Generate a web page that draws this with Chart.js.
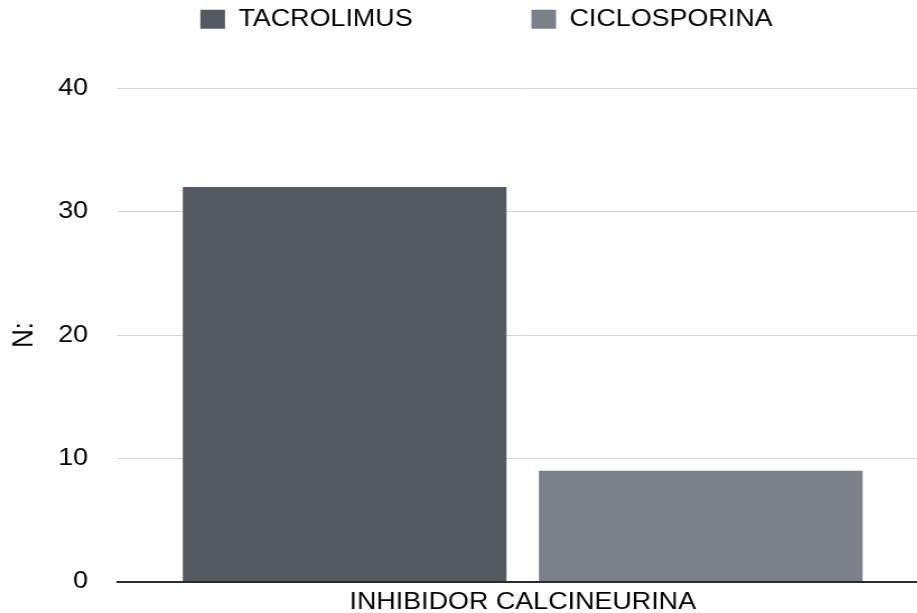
<!DOCTYPE html>
<html>
<head>
<meta charset="utf-8">
<title>Inhibidor calcineurina</title>
<script src="https://cdn.jsdelivr.net/npm/chart.js@4.4.1/dist/chart.umd.min.js"></script>
<style>
  html, body { margin: 0; padding: 0; background: #fff; overflow: hidden; }
  #frame { width: 917px; height: 613px; overflow: hidden; position: relative; }
  /* the drawing is widened a little with a horizontal scale */
  #stage { width: 840px; height: 613px; transform: scaleX(1.12); transform-origin: 0 0; }
  canvas { display: block; }
</style>
</head>
<body>
<div id="frame"><div id="stage"><canvas id="chart" width="840" height="613"></canvas></div></div>
<script>
// ---- data ----
const categories = ['INHIBIDOR CALCINEURINA'];
const seriesNames = ['TACROLIMUS', 'CICLOSPORINA'];
const tacrolimusValues = [32];
const ciclosporinaValues = [9];
const yTicks = [0, 10, 20, 30, 40];
const yTitle = 'N:';

// ---- styling ----
const seriesColors = ['#555a61', '#7b8089'];
const FONT = "'Liberation Sans', Arial, Helvetica, sans-serif";
Chart.defaults.font.family = FONT;
Chart.defaults.color = '#000';

// keeps a fixed band for the legend above the plot
const legendBand = {
  id: 'legendBand',
  beforeUpdate(chart) {
    const lg = chart.legend;
    if (lg && !lg.__banded) {
      const fit = lg.fit.bind(lg);
      lg.fit = function () { fit(); this.height = 187.2; };
      lg.__banded = true;
    }
  }
};

new Chart(document.getElementById('chart'), {
  type: 'bar',
  data: {
    labels: categories,
    datasets: [
      { label: seriesNames[0], data: tacrolimusValues, backgroundColor: seriesColors[0], borderWidth: 0 },
      { label: seriesNames[1], data: ciclosporinaValues, backgroundColor: seriesColors[1], borderWidth: 0 }
    ]
  },
  options: {
    responsive: false,
    animation: false,
    devicePixelRatio: 1,
    barPercentage: 0.909,
    categoryPercentage: 0.88,
    layout: { padding: { top: -98.8, left: 40.7, right: 12, bottom: -9.4 } },
    plugins: {
      tooltip: { enabled: false },
      legend: {
        position: 'top',
        align: 'center',
        labels: {
          boxWidth: 22,
          boxHeight: 19,
          padding: 106,
          color: '#000',
          font: { size: 24 }
        }
      }
    },
    scales: {
      x: {
        grid: { display: false, drawTicks: false },
        border: { display: true, color: '#2b2b2b', width: 2 },
        ticks: { padding: 6, color: '#000', font: { size: 24 } }
      },
      y: {
        min: yTicks[0],
        max: yTicks[yTicks.length - 1],
        ticks: {
          stepSize: yTicks[1] - yTicks[0],
          padding: 26.8,
          color: '#000',
          font: { size: 24 }
        },
        grid: { color: '#d4d4d4', lineWidth: 1, drawTicks: false },
        border: { display: false },
        title: {
          display: true,
          text: yTitle,
          color: '#000',
          font: { size: 26 },
          padding: { top: -34.9, bottom: 0 }
        },
        afterFit(scale) {
          scale.width = 64.7;
          // only half a label of overhang above and below the plot
          scale.paddingTop = 14.4;
          scale.paddingBottom = 14.4;
        }
      }
    }
  },
  plugins: [legendBand]
});
</script>
</body>
</html>
